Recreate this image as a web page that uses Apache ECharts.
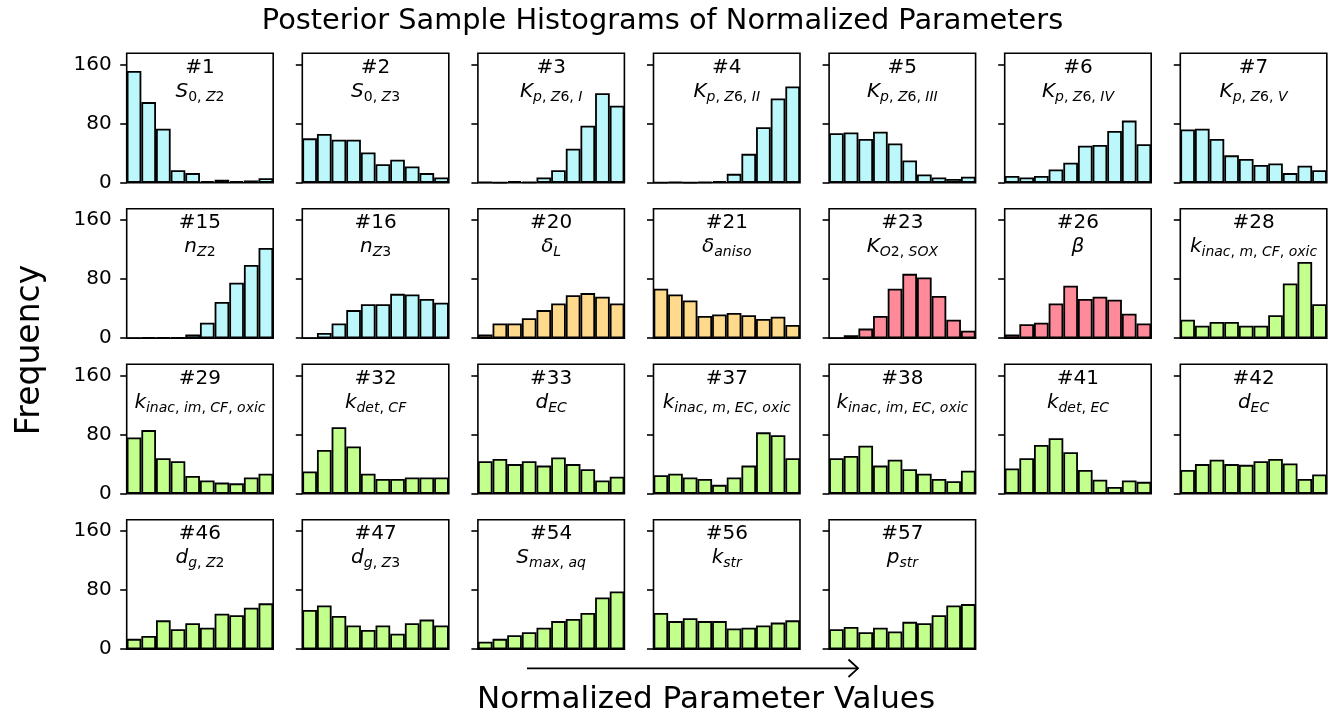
<!DOCTYPE html>
<html><head><meta charset="utf-8">
<script src="https://cdn.jsdelivr.net/npm/echarts@6/dist/echarts.min.js"></script>
<style>html,body{margin:0;padding:0;background:#fff}#c{width:1328px;height:715px}</style>
</head><body><div id="c"></div>
<script>
// ---- data ----
const bins = ['1','2','3','4','5','6','7','8','9','10'];
const yTicks = [0, 80, 160];
const yMax = 175;
const panelIds = ['#1','#2','#3','#4','#5','#6','#7','#15','#16','#20','#21','#23','#26','#28',
                  '#29','#32','#33','#37','#38','#41','#42','#46','#47','#54','#56','#57'];
const symMain = ['S','S','K','K','K','K','K','n','n','δ','δ','K','β','k',
                 'k','k','d','k','k','k','d','d','d','S','k','p'];
const symSub  = ['0, Z2','0, Z3','p, Z6, I','p, Z6, II','p, Z6, III','p, Z6, IV','p, Z6, V','Z2','Z3','L','aniso','O2, SOX','','inac, m, CF, oxic',
                 'inac, im, CF, oxic','det, CF','EC','inac, m, EC, oxic','inac, im, EC, oxic','det, EC','EC','g, Z2','g, Z3','max, aq','str','str'];
const groups  = ['c','c','c','c','c','c','c','c','c','y','y','p','p','g',
                 'g','g','g','g','g','g','g','g','g','g','g','g'];
const h1  = [151,109,73,17,13,2,4,2,3,6];
const h2  = [60,66,58,58,41,25,31,22,13,7];
const h3  = [1,0,2,1,7,17,46,77,121,104];
const h4  = [0,1,0,1,2,12,39,75,114,130];
const h5  = [67,68,59,69,53,30,11,7,5,8];
const h6  = [9,7,9,18,27,50,51,70,84,52];
const h7  = [72,73,59,37,32,24,26,13,23,17];
const h15 = [0,1,1,1,5,21,49,75,99,122];
const h16 = [0,7,20,38,46,46,60,59,53,48];
const h20 = [5,20,20,27,38,47,58,61,56,47];
const h21 = [67,59,51,30,32,34,31,26,29,18];
const h23 = [0,4,13,30,67,87,82,57,25,10];
const h26 = [5,19,21,47,71,53,56,52,33,20];
const h28 = [25,17,22,22,17,17,31,74,103,46];
const h29 = [76,86,48,44,24,18,15,14,22,27];
const h32 = [30,59,90,64,27,20,20,22,22,22];
const h33 = [44,47,40,44,38,49,40,33,18,23];
const h37 = [25,27,22,20,12,22,38,83,79,48];
const h38 = [48,51,65,38,46,33,27,20,17,31];
const h41 = [34,48,66,75,56,32,19,9,18,16];
const h42 = [32,40,46,40,39,44,47,41,20,26];
const h46 = [14,18,39,27,35,29,48,46,56,62];
const h47 = [53,59,45,32,26,32,21,35,40,32];
const h54 = [10,14,19,23,29,38,41,49,70,78];
const h56 = [49,38,42,38,38,28,29,32,36,39];
const h57 = [27,30,23,29,24,37,35,46,59,61];
const hists = [h1,h2,h3,h4,h5,h6,h7,h15,h16,h20,h21,h23,h26,h28,h29,h32,h33,h37,h38,h41,h42,h46,h47,h54,h56,h57];

// ---- styles ----
const FONT = 'DejaVu Sans';
const colors = {c:'#bbf7fb', y:'#ffd98c', p:'#ff8a99', g:'#c2ff8c'};
const L0 = 126.7, DX = 175.6, W = 146.5, T0 = 53.3, DY = 155.5, H = 129.4;

function mathRich(main, sub){
  const isLetter = ch => /[A-Za-zα-ωΑ-Ω]/.test(ch);
  let s = '{' + (isLetter(main) ? 'mi' : 'mu') + '|' + main + '}';
  for (const ch of sub){
    s += '{' + (isLetter(ch) ? 'si' : 'su') + '|' + ch + '}';
  }
  return s;
}
const rich = {
  mi:{fontSize:20, fontStyle:'italic', fontFamily:FONT, fill:'#000', lineHeight:26, verticalAlign:'middle'},
  mu:{fontSize:20, fontFamily:FONT, fill:'#000', lineHeight:26, verticalAlign:'middle'},
  si:{fontSize:14, fontStyle:'italic', fontFamily:FONT, fill:'#000', lineHeight:14, verticalAlign:'bottom'},
  su:{fontSize:14, fontFamily:FONT, fill:'#000', lineHeight:14, verticalAlign:'bottom'}
};

const grids=[], xAxes=[], yAxes=[], series=[], graphics=[];
hists.forEach((data,k)=>{
  const r = Math.floor(k/7), c = k%7;
  const left = L0 + c*DX, top = T0 + r*DY;
  grids.push({left, top, width:W, height:H, show:true, borderColor:'#000', borderWidth:1.6,
              backgroundColor:'transparent', containLabel:false, outerBoundsMode:'none'});
  xAxes.push({type:'category', gridIndex:k, data:bins, boundaryGap:true,
              axisLine:{show:false}, axisTick:{show:false}, axisLabel:{show:false}, splitLine:{show:false}});
  yAxes.push({type:'value', gridIndex:k, min:0, max:yMax, interval:80,
              axisLine:{show:false},
              axisTick:{show:true, inside:false, length:6.5, customValues:yTicks, lineStyle:{color:'#000', width:1.6}},
              axisLabel:{show:c===0, customValues:yTicks, color:'#000', fontSize:20, fontFamily:FONT, margin:15},
              splitLine:{show:false}});
  series.push({type:'bar', xAxisIndex:k, yAxisIndex:k, data, barWidth:'100%', silent:true,
               itemStyle:{color:colors[groups[k]], borderColor:'#000', borderWidth:1.8}});
  const cx = left + W/2;
  graphics.push({type:'text', x:cx, y:top+14, silent:true,
                 style:{text:panelIds[k], fontSize:20, fontFamily:FONT, fill:'#000', align:'center', verticalAlign:'middle'}});
  graphics.push({type:'text', x:cx, y:top+38, silent:true,
                 style:{text:mathRich(symMain[k], symSub[k]), rich, align:'center', verticalAlign:'middle', fontFamily:FONT, fontSize:20}});
});

graphics.push({type:'text', x:662.5, y:22, silent:true,
  style:{text:'Posterior Sample Histograms of Normalized Parameters', fontSize:28.8, fontFamily:FONT, fill:'#000', align:'center', verticalAlign:'middle'}});
graphics.push({type:'text', x:706, y:700, silent:true,
  style:{text:'Normalized Parameter Values', fontSize:31, fontFamily:FONT, fill:'#000', align:'center', verticalAlign:'middle'}});
graphics.push({type:'text', x:30, y:350, rotation:Math.PI/2, silent:true,
  style:{text:'Frequency', fontSize:33, fontFamily:FONT, fill:'#000', align:'center', verticalAlign:'middle'}});
graphics.push({type:'polyline', silent:true, shape:{points:[[527,668.3],[858,668.3]]}, style:{stroke:'#000', lineWidth:1.8, fill:null}});
graphics.push({type:'polyline', silent:true, shape:{points:[[848.5,659.5],[858,668.3],[848.5,677]]}, style:{stroke:'#000', lineWidth:1.8, fill:null}});

const chart = echarts.init(document.getElementById('c'), null, {renderer:'canvas'});
chart.setOption({animation:false, backgroundColor:'#fff', grid:grids, xAxis:xAxes, yAxis:yAxes, series, graphic:graphics});
</script></body></html>
